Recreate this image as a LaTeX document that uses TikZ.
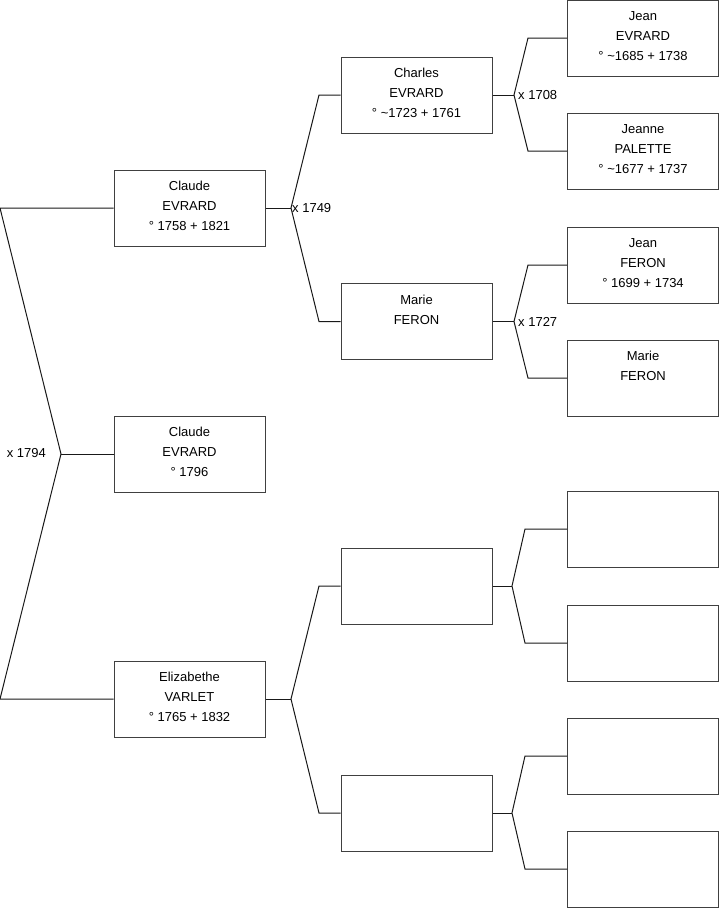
\documentclass[tikz,border=0pt]{standalone}
\usepackage{fontspec}
\setmainfont{Liberation Sans}
\usepackage{tikz}
\usetikzlibrary{positioning}

\begin{document}
\begin{tikzpicture}[
  x=1pt, y=-1pt,
  person/.style={draw=black!75, line width=1pt, minimum width=151pt, minimum height=76pt, inner sep=0pt, fill=white, font=\fontsize{13}{20}\selectfont, align=center, execute at end node={\rule[-4pt]{0pt}{4pt}}},
  conn/.style={line width=1pt, black!90},
  wed/.style={font=\fontsize{13}{15}\selectfont, inner sep=1pt}
]
  \useasboundingbox (0,0) rectangle (719,908);

  % 1. Generation 0 (couple and child)
  \node[person] (claudeA) at (189.5, 208) {Claude\\EVRARD\\° 1758 + 1821};
  \node[person] (claudeB) at (189.5, 454) {Claude\\EVRARD\\° 1796};
  \node[person] (elizabethe) at (189.5, 699) {Elizabethe\\VARLET\\° 1765 + 1832};

  % 2. Parents
  \node[person] (charles) at (416.5, 95) {Charles\\EVRARD\\° \textasciitilde1723 + 1761};
  \node[person] (marieA) at (416.5, 321.5) {Marie\\FERON\\~};
  \node[person] (empA) at (416.5, 586) {};
  \node[person] (empB) at (416.5, 813) {};

  % 3. Grandparents
  \node[person] (jeanA) at (643, 38) {Jean\\EVRARD\\° \textasciitilde1685 + 1738};
  \node[person] (jeanne) at (643, 151) {Jeanne\\PALETTE\\° \textasciitilde1677 + 1737};
  \node[person] (jeanB) at (643, 265) {Jean\\FERON\\° 1699 + 1734};
  \node[person] (marieB) at (643, 378) {Marie\\FERON\\~};
  \node[person] (empC) at (643, 529) {};
  \node[person] (empD) at (643, 643) {};
  \node[person] (empE) at (643, 756) {};
  \node[person] (empF) at (643, 869) {};

  % Root bracket
  \coordinate (rj) at (61, 454);
  \coordinate (rt) at (0, 208);
  \coordinate (rb) at (0, 699);
  \draw[conn] (rj) -- (claudeB.west);
  \draw[conn] (claudeA.west) -- (rt) -- (rj) -- (rb) -- (elizabethe.west);
  \node[wed, anchor=east] at (47, 453) {x 1794};

  % Brackets to parents
  \coordinate (j1) at (291, 208);
  \coordinate (f1t) at (319, 95);
  \coordinate (f1b) at (319, 321.5);
  \draw[conn] (claudeA.east) -- (j1);
  \draw[conn] (charles.west) -- (f1t) -- (j1) -- (f1b) -- (marieA.west);
  \node[wed, anchor=west] at (j1) {x 1749};

  \coordinate (j2) at (291, 699);
  \coordinate (f2t) at (319, 586);
  \coordinate (f2b) at (319, 813);
  \draw[conn] (elizabethe.east) -- (j2);
  \draw[conn] (empA.west) -- (f2t) -- (j2) -- (f2b) -- (empB.west);

  % Brackets to grandparents
  \coordinate (j3) at (514, 95);
  \coordinate (f3t) at (528, 38);
  \coordinate (f3b) at (528, 151);
  \draw[conn] (charles.east) -- (j3);
  \draw[conn] (jeanA.west) -- (f3t) -- (j3) -- (f3b) -- (jeanne.west);
  \node[wed, anchor=west, xshift=3pt] at (j3) {x 1708};

  \coordinate (j4) at (514, 321.5);
  \coordinate (f4t) at (528, 265);
  \coordinate (f4b) at (528, 378);
  \draw[conn] (marieA.east) -- (j4);
  \draw[conn] (jeanB.west) -- (f4t) -- (j4) -- (f4b) -- (marieB.west);
  \node[wed, anchor=west, xshift=3pt] at (j4) {x 1727};

  \coordinate (j5) at (512, 586);
  \coordinate (f5t) at (525, 529);
  \coordinate (f5b) at (525, 643);
  \draw[conn] (empA.east) -- (j5);
  \draw[conn] (empC.west) -- (f5t) -- (j5) -- (f5b) -- (empD.west);

  \coordinate (j6) at (512, 813);
  \coordinate (f6t) at (525, 756);
  \coordinate (f6b) at (525, 869);
  \draw[conn] (empB.east) -- (j6);
  \draw[conn] (empE.west) -- (f6t) -- (j6) -- (f6b) -- (empF.west);

\end{tikzpicture}
\end{document}
